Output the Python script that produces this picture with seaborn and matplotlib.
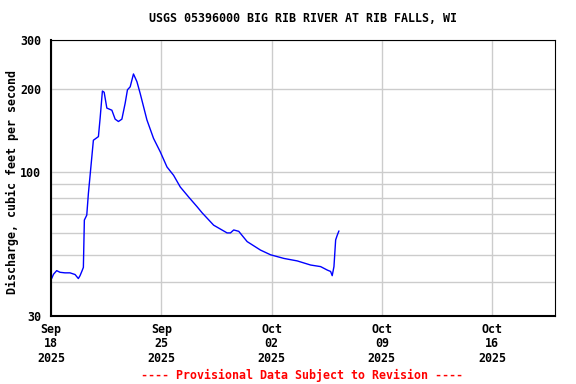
import matplotlib
matplotlib.use("Agg")
import matplotlib.pyplot as plt
import seaborn as sns
import pandas as pd

title = "USGS 05396000 BIG RIB RIVER AT RIB FALLS, WI"
ylabel = "Discharge, cubic feet per second"
footer = "---- Provisional Data Subject to Revision ----"

times = [
    "2025-09-18 01:00", "2025-09-18 03:50", "2025-09-18 08:40", "2025-09-18 13:45",
    "2025-09-18 21:20", "2025-09-19 05:00", "2025-09-19 12:40", "2025-09-19 17:40",
    "2025-09-19 20:15", "2025-09-19 22:55", "2025-09-20 01:20", "2025-09-20 02:50",
    "2025-09-20 06:30", "2025-09-20 09:00", "2025-09-20 11:35", "2025-09-20 16:35",
    "2025-09-21 00:15", "2025-09-21 02:50", "2025-09-21 06:20", "2025-09-21 09:00",
    "2025-09-21 13:05", "2025-09-21 20:45", "2025-09-22 01:45", "2025-09-22 06:45",
    "2025-09-22 12:00", "2025-09-22 17:00", "2025-09-22 20:30", "2025-09-23 00:40",
    "2025-09-23 05:40", "2025-09-23 10:55", "2025-09-23 15:55", "2025-09-24 02:10",
    "2025-09-24 12:15", "2025-09-24 22:30", "2025-09-25 08:45", "2025-09-25 18:50",
    "2025-09-26 05:00", "2025-09-26 17:40", "2025-09-27 06:30", "2025-09-27 14:10",
    "2025-09-28 07:50", "2025-09-29 04:20", "2025-09-29 09:25", "2025-09-29 14:25",
    "2025-09-29 22:05", "2025-09-30 10:55", "2025-10-01 07:10", "2025-10-01 22:30",
    "2025-10-02 18:50", "2025-10-03 15:15", "2025-10-04 11:35", "2025-10-05 02:50",
    "2025-10-05 13:05", "2025-10-05 18:05", "2025-10-05 20:30", "2025-10-05 23:10",
    "2025-10-06 01:45", "2025-10-06 04:20", "2025-10-06 06:45",
]
flow = [
    41.0, 42.5, 43.8, 43.2,
    43.0, 43.0, 42.4, 41.0,
    42.0, 43.5, 45.0, 66.8,
    69.6, 83.5, 97.0, 130.0,
    134.0, 156.0, 196.0, 194.0,
    170.0, 167.0, 155.0, 152.0,
    155.0, 177.0, 198.0, 203.0,
    226.0, 212.0, 192.0, 154.0,
    132.0, 118.0, 104.0, 97.0,
    88.0, 81.0, 74.7, 71.0,
    64.0, 60.0, 60.0, 61.5,
    60.8, 55.8, 52.0, 50.0,
    48.5, 47.5, 45.9, 45.3,
    44.0, 43.5, 42.0, 45.3,
    56.6, 59.0, 61.0,
]

ytick_vals = [30, 40, 50, 60, 70, 80, 90, 100, 200, 300]
ytick_labels = ["30", "", "", "", "", "", "", "100", "200", "300"]
xtick_dates = ["2025-09-18", "2025-09-25", "2025-10-02", "2025-10-09", "2025-10-16"]
xtick_labels = ["Sep\n18\n2025", "Sep\n25\n2025", "Oct\n02\n2025", "Oct\n09\n2025", "Oct\n16\n2025"]

df = pd.DataFrame({"time": pd.to_datetime(times), "flow": flow})

sns.set_style("white")
plt.rcParams["font.family"] = ["DejaVu Sans Mono"]
plt.rcParams["font.weight"] = "bold"
plt.rcParams["text.color"] = "black"
plt.rcParams["axes.labelcolor"] = "black"

fig = plt.figure(figsize=(5.76, 3.84), dpi=100)
ax = fig.add_axes([51/576, 1-316/384, (555-51)/576, (316-40)/384])

sns.lineplot(data=df, x="time", y="flow", ax=ax, color="#0000ff", linewidth=1.0)

ax.set_yscale("log")
ax.set_ylim(30, 300)
ax.set_xlim(pd.Timestamp("2025-09-18"), pd.Timestamp("2025-10-20"))
ax.yaxis.set_minor_locator(matplotlib.ticker.NullLocator())
ax.set_yticks(ytick_vals)
ax.set_yticklabels(ytick_labels)
ax.set_xticks(pd.to_datetime(xtick_dates))
ax.set_xticklabels(xtick_labels, linespacing=1.15)
ax.tick_params(axis="both", length=0, labelsize=8.4, colors="black")
ax.tick_params(axis="y", pad=7)
ax.tick_params(axis="x", pad=5)
for lab in ax.get_xticklabels() + ax.get_yticklabels():
    lab.set_fontweight("bold")

ax.grid(True, color="#cccccc", linewidth=1.0)
ax.set_axisbelow(True)
for s in ["left", "bottom"]:
    ax.spines[s].set_linewidth(1.5)
for s in ["top", "right"]:
    ax.spines[s].set_linewidth(0.8)
for s in ax.spines.values():
    s.set_color("black")

ax.set_xlabel("")
ax.set_ylabel("")
fig.text(12/576, 1-182/384, ylabel, ha="center", va="center", rotation=90,
         fontsize=8.4, fontweight="bold", color="black")
fig.text(303/576, 1-19/384, title, ha="center", va="center", fontsize=8.4,
         fontweight="bold", color="black")
fig.text(302/576, 1-375/384, footer, ha="center", va="center", fontsize=8.4,
         fontweight="bold", color="red")

fig.savefig("out.png", dpi=100)
